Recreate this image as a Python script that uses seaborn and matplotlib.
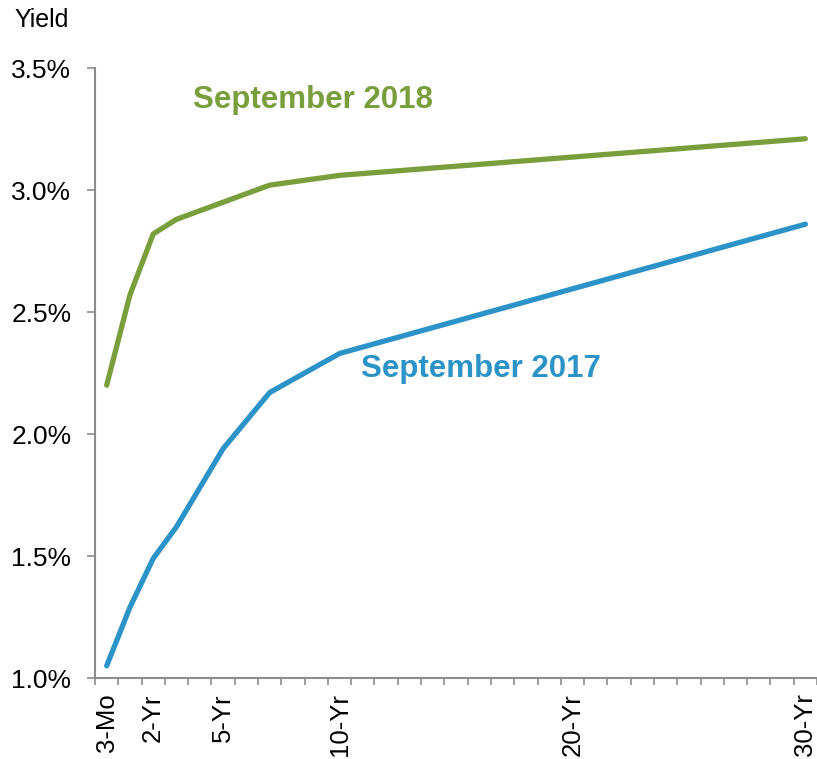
import numpy as np
import pandas as pd
import matplotlib as mpl
mpl.use('Agg')
import matplotlib.pyplot as plt
import seaborn as sns

# yield curve data (maturity in years; 3-Mo shown as first category)
maturity_labels = ['3-Mo', '1-Yr', '2-Yr', '3-Yr', '5-Yr', '7-Yr', '10-Yr', '30-Yr']
maturity_years = [0, 1, 2, 3, 5, 7, 10, 30]   # category slot on the axis
sep_2018 = [2.20, 2.57, 2.82, 2.88, 2.95, 3.02, 3.06, 3.21]
sep_2017 = [1.05, 1.29, 1.49, 1.62, 1.94, 2.17, 2.33, 2.86]

tick_slots = [0, 2, 5, 10, 20, 30]
tick_labels = ['3-Mo', '2-Yr', '5-Yr', '10-Yr', '20-Yr', '30-Yr']
ytick_vals = [1.0, 1.5, 2.0, 2.5, 3.0, 3.5]

green = '#7a9e3b'
blue = '#2b93c8'
grey = '#8c8c8c'

sns.set_style('white')
plt.rcParams['font.family'] = ['Liberation Sans', 'DejaVu Sans']
plt.rcParams['text.color'] = 'black'
plt.rcParams['xtick.color'] = 'black'
plt.rcParams['ytick.color'] = 'black'

df = pd.DataFrame({'slot': maturity_years * 2,
                   'yield': sep_2018 + sep_2017,
                   'series': ['September 2018'] * 8 + ['September 2017'] * 8})

fig = plt.figure(figsize=(8.17, 7.59), dpi=100)
ax = fig.add_axes([0.1163, 0.1067, 0.8837, 0.8037])

sns.lineplot(data=df, x='slot', y='yield', hue='series',
             palette={'September 2018': green, 'September 2017': blue},
             linewidth=3.8, legend=False, ax=ax, solid_capstyle='round')

ax.set_xlim(-0.5, 30.5)
ax.set_ylim(1.0, 3.5)
ax.set_xlabel('')
ax.set_ylabel('')

ax.set_xticks(tick_slots)
ax.set_xticklabels(tick_labels, rotation=90, fontsize=18.5)
ax.set_xticks(np.arange(-0.5, 31, 1), minor=True)
ax.tick_params(axis='x', which='both', bottom=True)
ax.tick_params(axis='x', which='major', length=0, pad=11)
ax.tick_params(axis='x', which='minor', length=5, width=1.2, color=grey, direction='out')

ax.set_yticks(ytick_vals)
ax.set_yticklabels(['%.1f%%' % v for v in ytick_vals], fontsize=19)
ax.tick_params(axis='y', which='major', left=True, length=6, width=1.2, color=grey,
               direction='out', pad=11, labelcolor='black')

for s in ['top', 'right']:
    ax.spines[s].set_visible(False)
for s in ['left', 'bottom']:
    ax.spines[s].set_color(grey)
    ax.spines[s].set_linewidth(1.5)

ax.text(3.7, 3.37, 'September 2018', color=green, fontsize=22.5, fontweight='bold', va='center', ha='left')
ax.text(10.9, 2.265, 'September 2017', color=blue, fontsize=22.5, fontweight='bold', va='center', ha='left')

fig.text(14 / 817, 1 - 20 / 759, 'Yield', fontsize=18, va='center', ha='left')

fig.savefig('out.png', dpi=100)
